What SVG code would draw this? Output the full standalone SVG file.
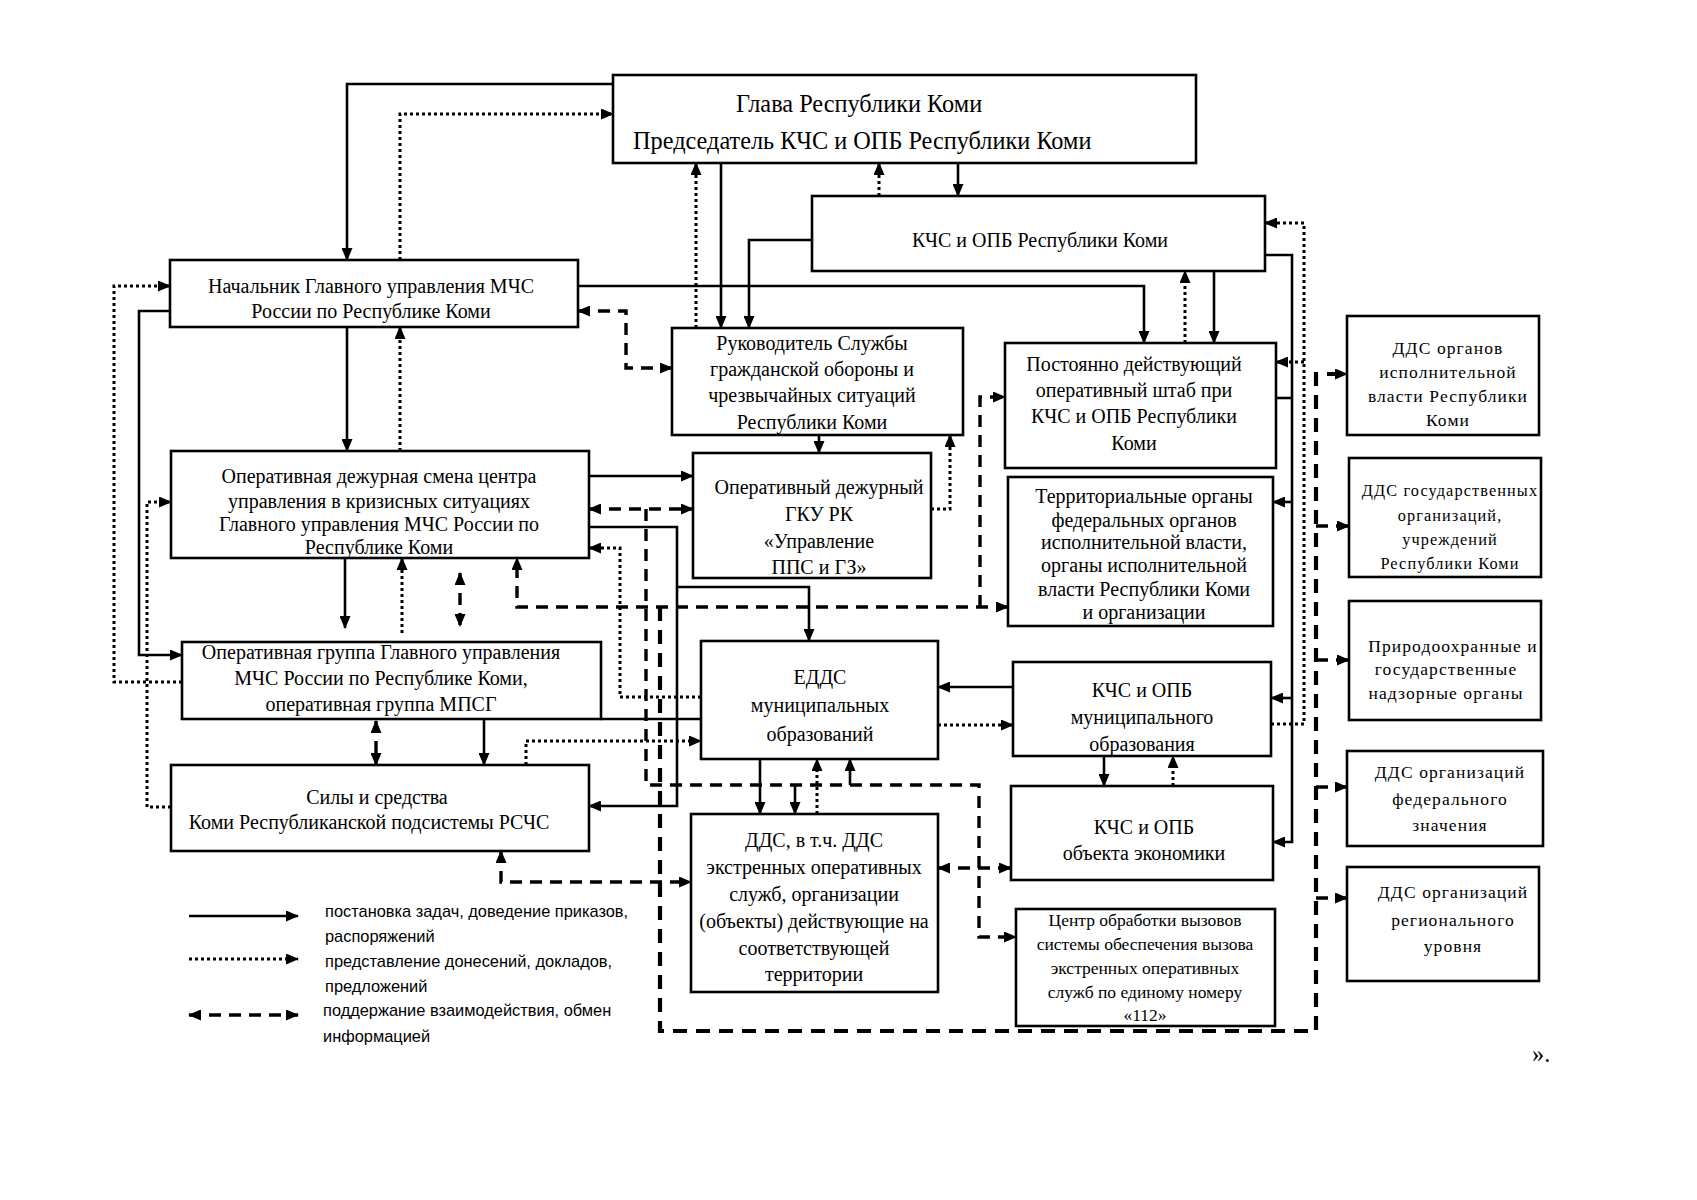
<svg xmlns="http://www.w3.org/2000/svg" width="1697" height="1200" viewBox="0 0 1697 1200">
<style>
.b{fill:#fff;stroke:#000;stroke-width:2.6}
.t{font-family:"Liberation Serif","Times New Roman",serif;font-size:20px;fill:#000;text-anchor:middle}
.tg{font-family:"Liberation Serif","Times New Roman",serif;font-size:24.3px;fill:#000}
.ts{font-family:"Liberation Serif","Times New Roman",serif;font-size:17.5px;fill:#000;text-anchor:middle}
.tr{font-family:"Liberation Serif","Times New Roman",serif;font-size:17.5px;fill:#000;text-anchor:middle;letter-spacing:1.1px}
.lg{font-family:"Liberation Sans",Arial,sans-serif;font-size:16.4px;fill:#000}
.s{fill:none;stroke:#000;stroke-width:2.6}
.d{fill:none;stroke:#000;stroke-width:3;stroke-dasharray:3 3}
.k{fill:none;stroke:#000;stroke-width:3.4;stroke-dasharray:12 8}
.kk{fill:none;stroke:#000;stroke-width:4.2;stroke-dasharray:14 9}
</style>
<defs>
<marker id="a" markerUnits="userSpaceOnUse" markerWidth="13" markerHeight="11" viewBox="0 0 13 11" refX="12" refY="5.5" orient="auto-start-reverse"><path d="M0,0 L13,5.5 L0,11 z" fill="#000"/></marker>
</defs>
<rect width="1697" height="1200" fill="#fff"/>

<g id="connectors">
<!-- solid -->
<path class="s" marker-end="url(#a)" d="M613,84 H347 V260"/>
<path class="s" marker-end="url(#a)" d="M721,163 V328"/>
<path class="s" marker-end="url(#a)" d="M958,163 V196"/>
<path class="s" marker-end="url(#a)" d="M812,240 H749 V328"/>
<path class="s" marker-end="url(#a)" d="M578,286 H1144 V343"/>
<path class="s" marker-end="url(#a)" d="M1214,271 V343"/>
<path class="s" marker-end="url(#a)" d="M170,311 H139 V655 H182"/>
<path class="s" marker-end="url(#a)" d="M347,327 V451"/>
<path class="s" marker-end="url(#a)" d="M589,476 H693"/>
<path class="s" marker-end="url(#a)" d="M589,527 H677 V806 H589"/>
<path class="s" marker-end="url(#a)" d="M677,587 H809 V641"/>
<path class="s" marker-end="url(#a)" d="M819,435 V453"/>
<path class="s" marker-end="url(#a)" d="M345,558 V628"/>
<path class="s" marker-end="url(#a)" d="M484,719 V765"/>
<path class="s" d="M601,719 H701"/>
<path class="s" marker-end="url(#a)" d="M1013,687 H938"/>
<path class="s" marker-end="url(#a)" d="M760,759 V814"/>
<path class="s" marker-end="url(#a)" d="M795,785 V814"/>
<path class="s" marker-end="url(#a)" d="M850,785 V759"/>
<path class="s" marker-end="url(#a)" d="M1104,756 V786"/>
<path class="s" marker-end="url(#a)" d="M1265,255 H1292 V842 H1273"/>
<path class="s" marker-end="url(#a)" d="M1292,502 H1273"/>
<path class="s" marker-end="url(#a)" d="M1292,698 H1271"/>
<path class="s" d="M1268,398 H1292"/>
<!-- dotted -->
<path class="d" marker-end="url(#a)" d="M400,260 V114 H613"/>
<path class="d" marker-end="url(#a)" d="M696,328 V163"/>
<path class="d" marker-end="url(#a)" d="M879,196 V163"/>
<path class="d" marker-end="url(#a)" d="M1185,343 V271"/>
<path class="d" marker-end="url(#a)" d="M182,682 H114 V286 H170"/>
<path class="d" marker-end="url(#a)" d="M400,451 V327"/>
<path class="d" marker-end="url(#a)" d="M171,807 H147 V502 H171"/>
<path class="d" marker-end="url(#a)" d="M931,509 H950 V435"/>
<path class="d" marker-end="url(#a)" d="M402,633 V558"/>
<path class="d" marker-end="url(#a)" d="M526,765 V741 H701"/>
<path class="d" marker-end="url(#a)" d="M701,697 H620 V548 H589"/>
<path class="d" marker-end="url(#a)" d="M938,725 H1013"/>
<path class="d" marker-end="url(#a)" d="M817,814 V759"/>
<path class="d" marker-end="url(#a)" d="M1173,786 V756"/>
<path class="d" marker-end="url(#a)" d="M1271,724 H1304 V223 H1265"/>
<path class="d" marker-end="url(#a)" d="M1304,362 H1276"/>
<!-- dashed -->
<path class="k" marker-start="url(#a)" marker-end="url(#a)" d="M578,311 H626 V368 H672"/>
<path class="k" marker-start="url(#a)" marker-end="url(#a)" d="M589,509 H693"/>
<path class="k" marker-start="url(#a)" marker-end="url(#a)" d="M460,573 V626"/>
<path class="k" marker-start="url(#a)" marker-end="url(#a)" d="M376,721 V765"/>
<path class="k" marker-start="url(#a)" marker-end="url(#a)" d="M1008,607 H517 V558"/>
<path class="k" marker-end="url(#a)" d="M980,607 V397 H1005"/>
<path class="k" marker-end="url(#a)" d="M646,509 V785 H979 V937 H1016"/>
<path class="k" marker-start="url(#a)" marker-end="url(#a)" d="M938,868 H1011"/>
<path class="k" marker-start="url(#a)" marker-end="url(#a)" d="M501,851 V882 H691"/>
<path class="kk" marker-end="url(#a)" d="M660,607 V1031 H1316 V374 H1347"/>
<path class="k" marker-end="url(#a)" d="M1316,526 H1349"/>
<path class="k" marker-end="url(#a)" d="M1316,660 H1349"/>
<path class="k" marker-end="url(#a)" d="M1316,787 H1347"/>
<path class="k" marker-end="url(#a)" d="M1316,898 H1347"/>
</g>

<g id="glava"><rect class="b" x="613" y="75" width="583" height="88"/>
<text class="tg"><tspan x="736" y="112">Глава Республики Коми</tspan><tspan x="633" y="149">Председатель КЧС и ОПБ Республики Коми</tspan></text></g>
<g id="kchs-rk"><rect class="b" x="812" y="196" width="453" height="75"/>
<text class="t" x="1040" y="247">КЧС  и ОПБ  Республики Коми</text></g>
<g id="nachalnik"><rect class="b" x="170" y="260" width="408" height="67"/>
<text class="t"><tspan x="371" y="293">Начальник Главного управления МЧС</tspan><tspan x="371" y="318">России по Республике Коми</tspan></text></g>
<g id="rukovoditel"><rect class="b" x="672" y="328" width="291" height="107"/>
<text class="t"><tspan x="812" y="350">Руководитель  Службы</tspan><tspan x="812" y="376">гражданской  обороны и</tspan><tspan x="812" y="402">чрезвычайных ситуаций</tspan><tspan x="812" y="429">Республики Коми</tspan></text></g>
<g id="shtab"><rect class="b" x="1005" y="343" width="271" height="125"/>
<text class="t"><tspan x="1134" y="371">Постоянно действующий</tspan><tspan x="1134" y="397">оперативный штаб при</tspan><tspan x="1134" y="423">КЧС  и ОПБ  Республики</tspan><tspan x="1134" y="450">Коми</tspan></text></g>
<g id="smena"><rect class="b" x="171" y="451" width="418" height="107"/>
<text class="t"><tspan x="379" y="483">Оперативная  дежурная смена центра</tspan><tspan x="379" y="508">управления в кризисных ситуациях</tspan><tspan x="379" y="531">Главного управления МЧС России по</tspan><tspan x="379" y="554">Республике Коми</tspan></text></g>
<g id="gku"><rect class="b" x="693" y="453" width="238" height="125"/>
<text class="t"><tspan x="819" y="494">Оперативный  дежурный</tspan><tspan x="819" y="521">ГКУ РК</tspan><tspan x="819" y="548">«Управление</tspan><tspan x="819" y="574">ППС и ГЗ»</tspan></text></g>
<g id="terr"><rect class="b" x="1008" y="477" width="265" height="149"/>
<text class="t"><tspan x="1144" y="503">Территориальные органы</tspan><tspan x="1144" y="527">федеральных органов</tspan><tspan x="1144" y="549">исполнительной  власти,</tspan><tspan x="1144" y="572">органы исполнительной</tspan><tspan x="1144" y="596">власти  Республики Коми</tspan><tspan x="1144" y="619">и организации</tspan></text></g>
<g id="gruppa"><rect class="b" x="182" y="642" width="419" height="77"/>
<text class="t"><tspan x="381" y="659">Оперативная  группа Главного  управления</tspan><tspan x="381" y="685">МЧС России по Республике  Коми,</tspan><tspan x="381" y="711">оперативная группа МПСГ</tspan></text></g>
<g id="edds"><rect class="b" x="701" y="641" width="237" height="118"/>
<text class="t"><tspan x="820" y="684">ЕДДС</tspan><tspan x="820" y="712">муниципальных</tspan><tspan x="820" y="741">образований</tspan></text></g>
<g id="kchs-mun"><rect class="b" x="1013" y="662" width="258" height="94"/>
<text class="t"><tspan x="1142" y="697">КЧС  и ОПБ</tspan><tspan x="1142" y="724">муниципального</tspan><tspan x="1142" y="751">образования</tspan></text></g>
<g id="sily"><rect class="b" x="171" y="765" width="418" height="86"/>
<text class="t"><tspan x="377" y="804">Силы  и средства</tspan><tspan x="369" y="829">Коми Республиканской  подсистемы РСЧС</tspan></text></g>
<g id="kchs-obj"><rect class="b" x="1011" y="786" width="262" height="94"/>
<text class="t"><tspan x="1144" y="834">КЧС  и ОПБ</tspan><tspan x="1144" y="860">объекта экономики</tspan></text></g>
<g id="dds"><rect class="b" x="691" y="814" width="247" height="178"/>
<text class="t"><tspan x="814" y="847">ДДС,  в т.ч.  ДДС</tspan><tspan x="814" y="874">экстренных  оперативных</tspan><tspan x="814" y="901">служб, организации</tspan><tspan x="814" y="928">(объекты)  действующие  на</tspan><tspan x="814" y="955">соответствующей</tspan><tspan x="814" y="981">территории</tspan></text></g>
<g id="c112"><rect class="b" x="1016" y="909" width="259" height="117"/>
<text class="ts"><tspan x="1145" y="926">Центр обработки вызовов</tspan><tspan x="1145" y="950">системы  обеспечения  вызова</tspan><tspan x="1145" y="974">экстренных  оперативных</tspan><tspan x="1145" y="998">служб по единому  номеру</tspan><tspan x="1145" y="1021">«112»</tspan></text></g>
<g id="r1"><rect class="b" x="1347" y="316" width="192" height="119"/>
<text class="tr"><tspan x="1448" y="354">ДДС органов</tspan><tspan x="1448" y="378">исполнительной</tspan><tspan x="1448" y="402">власти  Республики</tspan><tspan x="1448" y="426">Коми</tspan></text></g>
<g id="r2"><rect class="b" x="1349" y="458" width="192" height="119"/>
<text class="tr" style="font-size:16.3px"><tspan x="1450" y="496">ДДС государственных</tspan><tspan x="1450" y="521">организаций,</tspan><tspan x="1450" y="545">учреждений</tspan><tspan x="1450" y="569">Республики Коми</tspan></text></g>
<g id="r3"><rect class="b" x="1349" y="601" width="192" height="119"/>
<text class="tr"><tspan x="1453" y="652">Природоохранные  и</tspan><tspan x="1446" y="675">государственные</tspan><tspan x="1446" y="699">надзорные органы</tspan></text></g>
<g id="r4"><rect class="b" x="1347" y="751" width="196" height="95"/>
<text class="tr"><tspan x="1450" y="778">ДДС организаций</tspan><tspan x="1450" y="805">федерального</tspan><tspan x="1450" y="831">значения</tspan></text></g>
<g id="r5"><rect class="b" x="1347" y="867" width="192" height="114"/>
<text class="tr"><tspan x="1453" y="898">ДДС организаций</tspan><tspan x="1453" y="926">регионального</tspan><tspan x="1453" y="952">уровня</tspan></text></g>

<g id="legend">
<path class="s" marker-end="url(#a)" d="M189,916 H298"/>
<path class="d" marker-end="url(#a)" d="M189,959 H298"/>
<path class="k" marker-start="url(#a)" marker-end="url(#a)" d="M189,1015 H298"/>
<text class="lg"><tspan x="325" y="917">постановка задач, доведение приказов,</tspan><tspan x="325" y="942">распоряжений</tspan><tspan x="325" y="967">представление донесений, докладов,</tspan><tspan x="325" y="992">предложений</tspan><tspan x="323" y="1016">поддержание  взаимодействия, обмен</tspan><tspan x="323" y="1042">информацией</tspan></text>
</g>
<text class="tg" x="1532" y="1062">».</text>
</svg>
